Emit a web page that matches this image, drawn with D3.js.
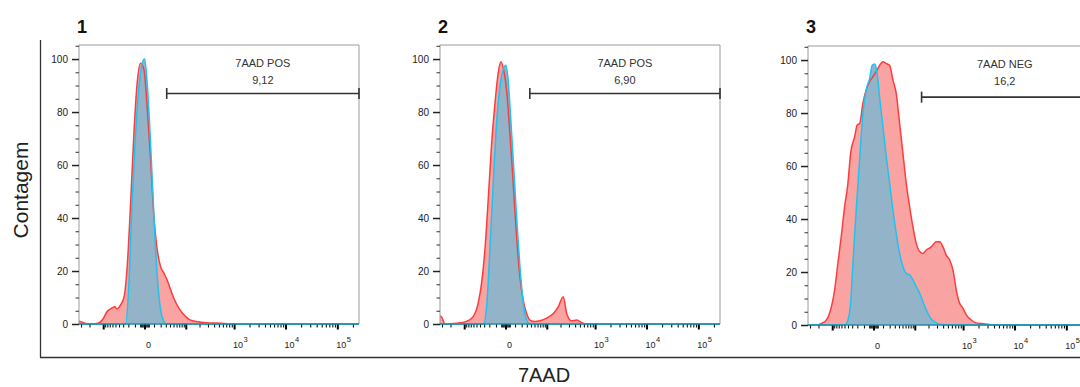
<!DOCTYPE html>
<html>
<head>
<meta charset="utf-8">
<script src="https://cdn.jsdelivr.net/npm/d3@7"></script>
<style>
  body { margin: 0; background: #fff; }
  svg { display: block; font-family: "Liberation Sans", Arial, sans-serif; }
</style>
</head>
<body>
<div id="vis"></div>
<script>
// panel titles and gates
const panelNames = ["1", "2", "3"];
const gateNames = ["7AAD POS", "7AAD POS", "7AAD NEG"];
const gateValues = ["9,12", "6,90", "16,2"];
const gateStart = [32, 37, 142];
const gateEnd = 262144;
const gateLevel = [87, 87, 86];

// histograms (7AAD intensity, % of max)
const red1X = [-330, -300, -250, -216, -180, -130, -100, -82, -62, -52, -46, -36, -28, -22, -16, -11.4, -7.3, -3.6, -0.5, 2.4, 5.9, 9.9, 14.5, 19.9, 26, 33, 42, 51, 69, 99, 140, 270, 575, 800, 262144];
const red1Y = [1.0, 0.8, 0.3, 0, 0, 0.3, 2, 4.6, 6, 6.5, 5.7, 7.2, 10.3, 21.6, 46.8, 72, 91, 98.4, 96, 82, 62, 40.5, 28, 21.6, 19.2, 16.6, 12.8, 9.7, 5.9, 2.8, 1.2, 0.5, 0.3, 0, 0];
const blue1X = [-330, -25, -19, -13.8, -9.2, -5.3, -2, 0.1, 2.4, 5.9, 9.9, 14.5, 19.9, 26, 31, 262144];
const blue1Y = [0, 0, 15.4, 46.8, 72, 89.6, 98.4, 100, 91, 68, 40.5, 17.8, 5.3, 0.9, 0, 0];

const red2X = [-330, -302, -262, -148, -88, -61, -45, -36, -28.4, -22, -16.2, -11.4, -7.3, -4.3, -2, 1, 4.1, 7.8, 12.1, 17.1, 22.8, 29.6, 37.3, 51, 69, 99, 140, 179, 228, 269, 340, 430, 542, 681, 262144];
const red2Y = [3, 2.5, 0, 0.3, 1, 2.8, 7.9, 15.4, 28, 46.8, 68, 83, 94.7, 99, 96.6, 88, 72, 53, 33, 17.7, 9, 4, 1.5, 0.9, 1.2, 2.2, 4, 6.5, 10.3, 4, 1.2, 1.5, 0.5, 0, 0];
const blue2X = [-330, -32, -25, -19, -13.8, -9.2, -5.3, -2, 0.4, 2.4, 4.9, 7.8, 12.1, 17.1, 22.8, 29.6, 37.3, 262144];
const blue2Y = [0, 0, 6.5, 28, 53, 76, 89.6, 96, 97.7, 92, 78, 62, 40.5, 21.6, 7.9, 1.5, 0, 0];

const red3X = [-330, -241, -148, -115, -88, -73.4, -60.8, -49.6, -40.2, -33.5, -25, -20.2, -16.2, -11.4, -7.3, -3.6, -0.5, 2.4, 5.9, 9.9, 14.5, 19.9, 26, 33.2, 41.7, 51.3, 62.4, 75.7, 90.7, 108, 129, 152, 179, 228, 290, 340, 397, 463, 542, 630, 733, 855, 994, 1154, 1446, 1811, 2500, 4184, 262144];
const red3Y = [0, 0, 1.2, 4.4, 13.2, 23.3, 33.3, 44.6, 53.5, 64.8, 71, 75.5, 76, 83.7, 88.7, 91.8, 93.7, 95.6, 98, 99.4, 98.7, 98, 92.5, 87.4, 76, 64.8, 53.5, 44.6, 37, 30.8, 27.7, 27, 28.3, 29.5, 31.4, 31.4, 29.5, 26.4, 24.5, 20.8, 13.2, 8.2, 6.3, 3.8, 1.9, 0.8, 0.5, 0, 0];
const blue3X = [-330, -49.6, -40.2, -33.5, -28.4, -22, -16.2, -11.4, -7.3, -3.6, -1.1, 1.0, 3.1, 5.9, 9.9, 14.5, 19.9, 26, 33.2, 41.7, 51.3, 62.4, 75.7, 90.7, 108, 129, 152, 179, 211, 269, 340, 500, 262144];
const blue3Y = [0, 0, 1.9, 8.2, 23.3, 43.4, 62.3, 79.9, 88.7, 93, 98, 98.5, 95.6, 86, 74.8, 63.5, 53.5, 43.4, 34.6, 27, 22, 19.5, 18.9, 17, 14.5, 12, 8.8, 5.7, 3.1, 1.2, 0.3, 0, 0];

// axis ticks
const yMajor = [0, 20, 40, 60, 80, 100];
const yMinor = [5, 10, 15, 25, 30, 35, 45, 50, 55, 65, 70, 75, 85, 90, 95, 105];
const xMajor = [-100, 0, 100, 1000, 10000, 100000];
const xMinor = [-300, -200, -90, -80, -70, -60, -50, -40, -30, -20, -10, -4, -3, -2, -1,
  1, 2, 3, 4, 10, 20, 30, 40, 50, 60, 70, 80, 90, 200, 300, 400, 500, 600, 700, 800, 900,
  2000, 3000, 4000, 5000, 6000, 7000, 8000, 9000, 20000, 30000, 40000, 50000, 60000, 70000, 80000, 90000, 200000];
const xLabels = [0, 1000, 10000, 100000];

const panels = [
  {red: [red1X, red1Y], blue: [blue1X, blue1Y]},
  {red: [red2X, red2Y], blue: [blue2X, blue2Y]},
  {red: [red3X, red3Y], blue: [blue3X, blue3Y]}
];

// layout
const W = 1080, H = 387;
const panelLeft = [79, 440, 808];
const panelTop = [45, 45, 46];
const pw = 280, ph = 279;

const svg = d3.select("#vis").append("svg")
  .attr("width", W).attr("height", H);

// outer frame
svg.append("line").attr("x1", 40.5).attr("x2", 40.5).attr("y1", 40).attr("y2", 357.5)
  .attr("stroke", "#333").attr("stroke-width", 1.3);
svg.append("line").attr("x1", 40).attr("x2", W).attr("y1", 357.5).attr("y2", 357.5)
  .attr("stroke", "#333").attr("stroke-width", 1.3);

svg.append("text").attr("transform", "translate(28,190) rotate(-90)")
  .attr("text-anchor", "middle").attr("font-size", 21).attr("fill", "#222")
  .text("Contagem");
svg.append("text").attr("x", 544).attr("y", 382)
  .attr("text-anchor", "middle").attr("font-size", 20).attr("fill", "#222")
  .text("7AAD");

const x = d3.scaleSymlog().constant(19).domain([-330, 262144]).range([0, pw]);
const y = d3.scaleLinear().domain([0, 105.3]).range([ph, 0]);

const area = d3.area().x(d => x(d[0])).y0(ph).y1(d => y(d[1])).curve(d3.curveMonotoneX);
const line = d3.line().x(d => x(d[0])).y(d => y(d[1])).curve(d3.curveMonotoneX);

panels.forEach((p, i) => {
  const g = svg.append("g").attr("transform", `translate(${panelLeft[i]},${panelTop[i]})`);

  svg.append("text").attr("x", panelLeft[i] - 2).attr("y", 33)
    .attr("font-size", 18).attr("font-weight", "bold").attr("fill", "#111")
    .text(panelNames[i]);

  g.append("clipPath").attr("id", "clip" + i)
    .append("rect").attr("width", pw).attr("height", ph + 1);

  const red = d3.zip(p.red[0], p.red[1]);
  const blue = d3.zip(p.blue[0], p.blue[1]);
  const plot = g.append("g").attr("clip-path", `url(#clip${i})`);

  plot.append("path").datum(red).attr("d", area).attr("fill", "#f9a3a3");
  plot.append("path").datum(blue).attr("d", area).attr("fill", "#93b3c9");
  plot.append("path").datum(red).attr("d", line)
    .attr("fill", "none").attr("stroke", "#ff3c3c").attr("stroke-width", 1.5);
  plot.append("path").datum(blue).attr("d", line)
    .attr("fill", "none").attr("stroke", "#1ec3f0").attr("stroke-width", 1.5);

  // box
  g.append("path").attr("d", `M0,${ph}V0H${pw}V${ph}`)
    .attr("fill", "none").attr("stroke", "#9a9a9a").attr("stroke-width", 1);

  // y axis
  const yAxis = g.append("g").attr("font-size", 9)
    .call(d3.axisLeft(y).tickValues(yMajor).tickSize(7).tickPadding(4));
  yAxis.select(".domain").remove();
  yAxis.selectAll("line").attr("stroke", "#222").attr("stroke-width", 1.5);
  yAxis.selectAll("text").attr("fill", "#222").attr("font-family", "Liberation Sans, Arial, sans-serif");
  const yMin = g.append("g")
    .call(d3.axisLeft(y).tickValues(yMinor).tickSize(3.5).tickFormat(""));
  yMin.select(".domain").remove();
  yMin.selectAll("line").attr("stroke", "#333");

  // x axis
  const xg = g.append("g").attr("transform", `translate(0,${ph})`);
  xg.append("line").attr("x1", 0).attr("x2", pw).attr("stroke", "#222").attr("stroke-width", 1.2);
  const xMaj = xg.append("g").call(d3.axisBottom(x).tickValues(xMajor).tickSize(5.5).tickFormat(""));
  xMaj.select(".domain").remove();
  xMaj.selectAll("line").attr("stroke", "#000").attr("stroke-width", 2);
  const xMin = xg.append("g").call(d3.axisBottom(x).tickValues(xMinor).tickSize(3.5).tickFormat(""));
  xMin.select(".domain").remove();
  xMin.selectAll("line").attr("stroke", "#111").attr("stroke-width", 1.1);
  // baseline of blue histogram sits on the axis
  xg.append("line").attr("x1", 0).attr("x2", pw).attr("stroke", "#1ec3f0").attr("stroke-width", 1.2);

  xLabels.forEach(v => {
    const lx = x(v) + 4;
    if (v === 0) {
      xg.append("text").attr("x", lx).attr("y", 24).attr("text-anchor", "middle")
        .attr("font-size", 9).attr("fill", "#222").text("0");
    } else {
      xg.append("text").attr("x", lx).attr("y", 24).attr("text-anchor", "middle")
        .attr("font-size", 9).attr("fill", "#222").text("10");
      xg.append("text").attr("x", lx + 5.5).attr("y", 17.5).attr("text-anchor", "start")
        .attr("font-size", 7.5).attr("fill", "#222").text(String(Math.round(Math.log10(v))));
    }
  });

  // gate
  const gx1 = x(gateStart[i]), gx2 = x(gateEnd), gy = y(gateLevel[i]);
  const gate = g.append("g").attr("stroke", "#333").attr("stroke-width", 1.6);
  gate.append("line").attr("x1", gx1).attr("x2", gx2).attr("y1", gy).attr("y2", gy);
  gate.append("line").attr("x1", gx1).attr("x2", gx1).attr("y1", gy - 5.5).attr("y2", gy + 5.5);
  gate.append("line").attr("x1", gx2).attr("x2", gx2).attr("y1", gy - 5.5).attr("y2", gy + 5.5);
  const cx = (gx1 + gx2) / 2;
  g.append("text").attr("x", cx).attr("y", 22).attr("text-anchor", "middle")
    .attr("font-size", 11).attr("fill", "#333").text(gateNames[i]);
  g.append("text").attr("x", cx).attr("y", 39).attr("text-anchor", "middle")
    .attr("font-size", 11).attr("fill", "#333").text(gateValues[i]);
});
</script>
</body>
</html>
